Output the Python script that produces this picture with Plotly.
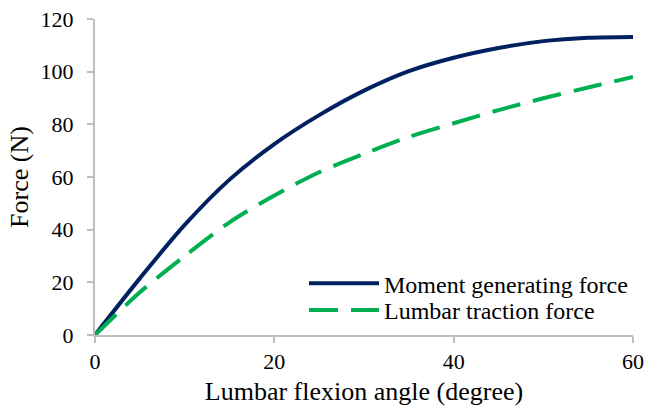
import plotly.graph_objects as go

angle = [0, 5, 10, 15, 20, 25, 30, 35, 40, 45, 50, 55, 60]
moment_force = [0, 21.5, 41.8, 59, 72.5, 83.5, 92.8, 100.2, 105.3, 109, 111.6, 112.9, 113.2]
traction_force = [0, 16.2, 30, 42.8, 53, 61.8, 68.8, 75.2, 80.4, 85.4, 89.9, 94, 98]

FONT = "Liberation Serif"

fig = go.Figure()
fig.add_trace(go.Scatter(
    x=angle, y=moment_force, mode="lines", name="Moment generating force",
    line=dict(color="#002060", width=4, shape="spline", smoothing=0.8),
    legend="legend",
))
fig.add_trace(go.Scatter(
    x=angle, y=traction_force, mode="lines", name="Lumbar traction force",
    line=dict(color="#00B050", width=4, shape="spline", smoothing=0.8, dash="29px,13px"),
    legend="legend2",
))

axis_common = dict(
    showgrid=False, zeroline=False, showline=True, linecolor="#BFBFBF", linewidth=2,
    ticks="outside", tickcolor="#BFBFBF", ticklen=6, tickwidth=2, automargin=False,
)
fig.update_xaxes(range=[0, 60], tickvals=[0, 20, 40, 60], **axis_common,
                 tickfont=dict(family=FONT, size=22, color="black"),
                 title=dict(text="Lumbar flexion angle (degree)", font=dict(family=FONT, size=26, color="black"), standoff=8))
fig.update_yaxes(range=[0, 120], tickvals=[0, 20, 40, 60, 80, 100, 120], **axis_common,
                 tickfont=dict(family=FONT, size=22, color="black"),
                 ticklabelstandoff=9,
                 title=dict(text="Force (N)", font=dict(family=FONT, size=26, color="black"), standoff=4))

legend_common = dict(xanchor="left", yanchor="top",
                     font=dict(family=FONT, size=24, color="black"),
                     itemwidth=70, bgcolor="rgba(0,0,0,0)")
fig.update_layout(
    width=645, height=410,
    margin=dict(l=95, r=12, t=19, b=75, autoexpand=False),
    plot_bgcolor="white", paper_bgcolor="white",
    font=dict(family=FONT, color="black"),
    showlegend=True,
    legend=dict(x=0.3885, y=0.234, **legend_common),
    legend2=dict(x=0.3885, y=0.149, **legend_common),
)

fig.write_html("out.html")
